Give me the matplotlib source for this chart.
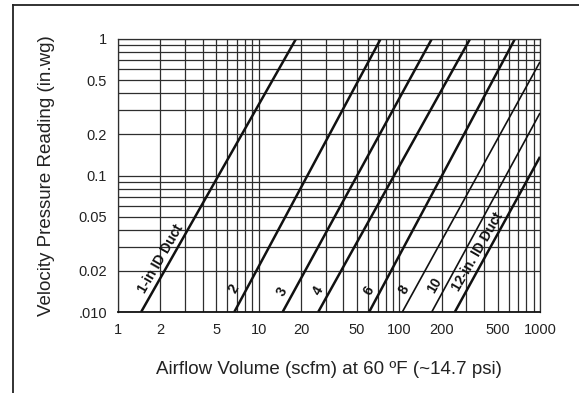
import matplotlib
matplotlib.use("Agg")
import matplotlib.pyplot as plt
from matplotlib.ticker import FixedLocator, FixedFormatter, LogLocator, NullFormatter
from matplotlib.lines import Line2D

plt.rcParams['font.family'] = ['Liberation Sans', 'DejaVu Sans']

# Duct lines (inner diameter, inches): endpoints
duct_labels = ['1-in ID Duct', '2', '3', '4', '6', '8', '10', '12-in. ID Duct']
x_start = [1.46, 6.71, 14.8, 26.5, 61, 105, 170, 248]
y_start = [0.01, 0.01, 0.01, 0.01, 0.01, 0.01, 0.01, 0.01]
x_end = [18.4, 73.6, 170, 318, 663, 1000, 1000, 1000]
y_end = [1, 1, 1, 1, 1, 0.68, 0.287, 0.137]
line_widths = [1.8, 1.8, 1.8, 1.8, 1.8, 1.2, 1.2, 1.8]

# Label anchor positions (data coords)
label_x = [2.0, 6.7, 14.7, 26.5, 61.0, 108, 177, 358]
label_y = [0.0246, 0.0148, 0.0141, 0.0143, 0.0143, 0.0145, 0.0156, 0.0278]

x_ticks = [1, 2, 5, 10, 20, 50, 100, 200, 500, 1000]
x_tick_labels = ['1', '2', '5', '10', '20', '50', '100', '200', '500', '1000']
y_ticks = [0.01, 0.02, 0.05, 0.1, 0.2, 0.5, 1]
y_tick_labels = ['.010', '0.02', '0.05', '0.1', '0.2', '0.5', '1']

fig = plt.figure(figsize=(5.79, 3.93), dpi=100)
ax = fig.add_axes([118/579, 1-312/393, (540-118)/579, (312-39)/393])
ax.set_xscale('log')
ax.set_yscale('log')
ax.set_xlim(1, 1000)
ax.set_ylim(0.01, 1)

ax.xaxis.set_major_locator(FixedLocator(x_ticks))
ax.xaxis.set_major_formatter(FixedFormatter(x_tick_labels))
ax.xaxis.set_minor_locator(LogLocator(base=10, subs=range(1, 10), numticks=50))
ax.xaxis.set_minor_formatter(NullFormatter())
ax.yaxis.set_major_locator(FixedLocator(y_ticks))
ax.yaxis.set_major_formatter(FixedFormatter(y_tick_labels))
ax.yaxis.set_minor_locator(LogLocator(base=10, subs=range(1, 10), numticks=50))
ax.yaxis.set_minor_formatter(NullFormatter())

ax.grid(which='both', color='#2e2e2e', lw=0.9)
ax.set_axisbelow(True)
ax.tick_params(which='both', length=0, labelsize=10.5, colors='#222222')
ax.tick_params(axis='x', pad=8)
ax.tick_params(axis='y', pad=8)
for s in ax.spines.values():
    s.set_color('#2e2e2e')
    s.set_linewidth(0.9)
ax.spines['bottom'].set_color('#111111')
ax.spines['bottom'].set_linewidth(1.3)

for xs, ys, xe, ye, lw in zip(x_start, y_start, x_end, y_end, line_widths):
    ax.plot([xs, xe], [ys, ye], color='#111111', lw=lw, solid_capstyle='butt')

for lab, lx, ly in zip(duct_labels, label_x, label_y):
    ax.text(lx, ly, lab, rotation=60, rotation_mode='anchor', ha='center', va='center',
            fontsize=10, fontweight='bold', color='#111111')

ax.set_xlabel('Airflow Volume (scfm) at 60 ºF (~14.7 psi)', fontsize=13.5, labelpad=17, color='#222222')
ax.set_ylabel('Velocity Pressure Reading (in.wg)', fontsize=13.5, labelpad=17, color='#222222')

# outer frame (top and left edges visible)
fig.add_artist(Line2D([13/579, 13/579], [0, 1-5/393], transform=fig.transFigure, color='#222222', lw=1.3))
fig.add_artist(Line2D([13/579, 1], [1-5/393, 1-5/393], transform=fig.transFigure, color='#222222', lw=1.3))

fig.savefig('out.png', dpi=100)
